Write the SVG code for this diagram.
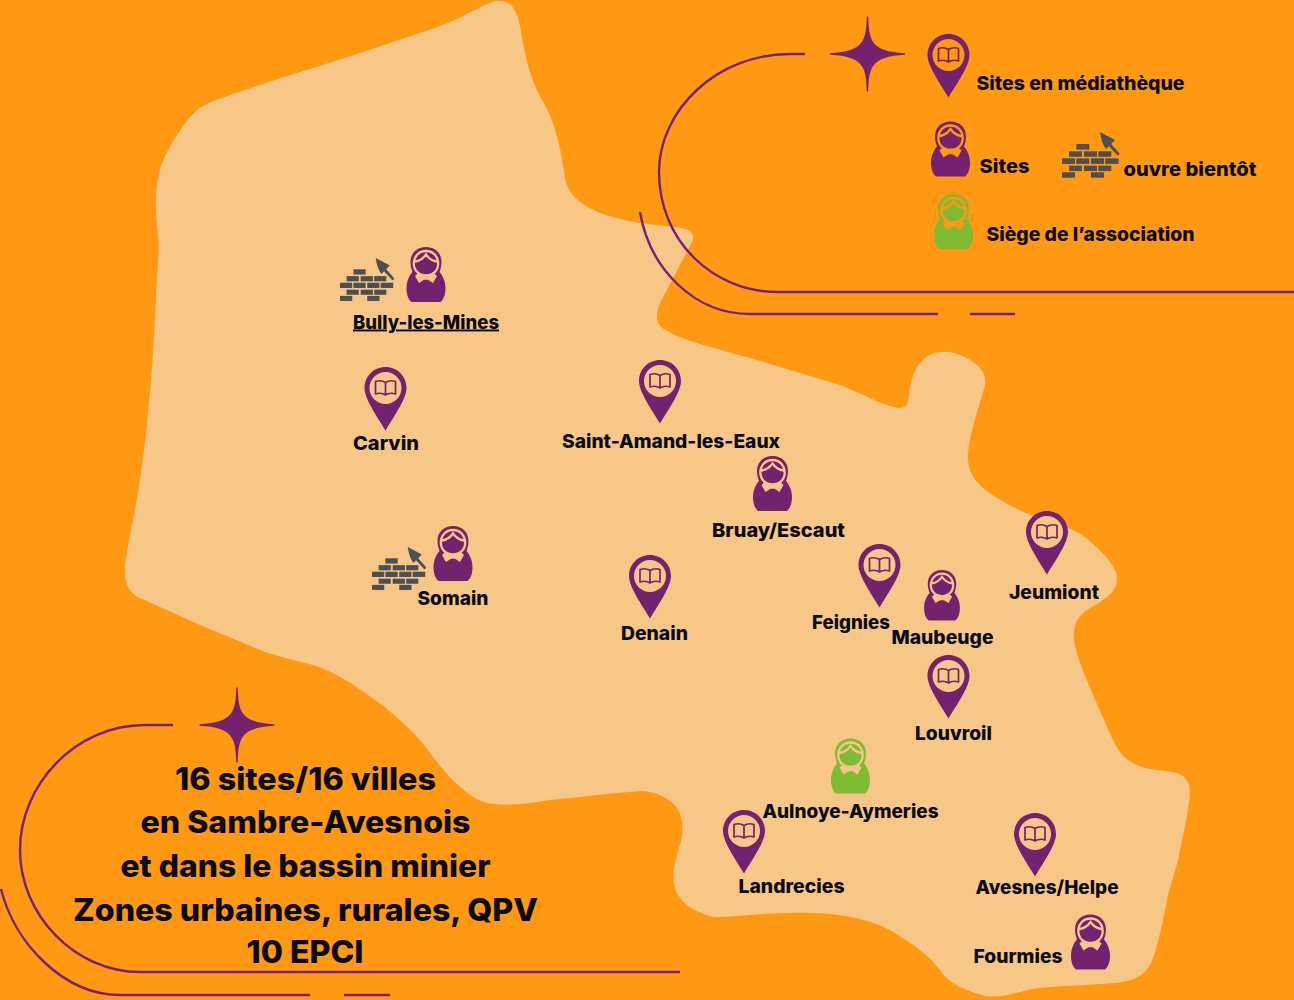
<svg xmlns="http://www.w3.org/2000/svg" width="1294" height="1000" viewBox="0 0 1294 1000">
<style>
text{font-family:"Inter","Liberation Sans",sans-serif;font-weight:800;fill:#0a0a0a}
.l{font-size:19px}
.b{font-size:31px;text-anchor:middle}
.c{fill:none;stroke:#74217a;stroke-width:2.4}
.onb{color:#ff9914}
.onm{color:#f6c787}
.p{fill:#742170}
.g{fill:#80bc33}
</style>
<defs>
<g id="pin">
<path fill="#742170" d="M0 0C12 0 21 9.500 21 21C21 32 8 50 0 63.500C-8 50 -21 32 -21 21C-21 9.500 -12 0 0 0Z"/>
<circle cy="21" r="16" fill="currentColor"/>
<path fill="none" stroke="#742170" stroke-width="1.700" stroke-linejoin="round" d="M0 15.500C-3 13.500 -7 13.500 -10 14.500V27C-7 26 -3 26 0 28C3 26 7 26 10 27V14.500C7 13.500 3 13.500 0 15.500ZM0 15.500V28"/>
</g>
<g id="doll">
<path d="M0 0C9.500 0 15.500 6.500 15.500 15C15.500 19 14.500 22 13.500 25C17 29 19.500 35 19.500 41C19.500 47 18 52 14.500 55H-14.500C-18 52 -19.500 47 -19.500 41C-19.500 35 -17 29 -13.500 25C-14.500 22 -15.500 19 -15.500 15C-15.500 6.500 -9.500 0 0 0Z"/>
<path fill="none" stroke="currentColor" stroke-width="2.300" d="M0 4C7.500 4 12.200 10 12.200 16.500C12.200 23.500 7 28.500 0 28.500C-7 28.500 -12.200 23.500 -12.200 16.500C-12.200 10 -7.500 4 0 4ZM-11 14.500C-6.500 14 -2.500 11 0 7.500C2.500 11 6.500 14 11 14.500"/>
<path fill="currentColor" d="M-8.500 26.500L0 29.500L8.500 26.500L11 29L7 36L2 32.800H-2L-7 36L-11 29Z"/>
</g>
<g id="bricks" fill="#4d4f53">
<rect x="14.300" y="12" width="13" height="5.600"/>
<rect x="7" y="19.300" width="13" height="5.500"/><rect x="22" y="19.300" width="13" height="5.500"/><rect x="36.300" y="19.300" width="13" height="5.500"/>
<rect x="0" y="26.300" width="13" height="5.600"/><rect x="14.300" y="26.300" width="13" height="5.600"/><rect x="29" y="26.300" width="13" height="5.600"/><rect x="43.300" y="26.300" width="13.300" height="5.600"/>
<rect x="7" y="33.700" width="13" height="5.400"/><rect x="22" y="33.700" width="13" height="5.400"/><rect x="36.300" y="33.700" width="13" height="5.400"/>
<rect x="0" y="40.300" width="13" height="5.400"/><rect x="29" y="40.300" width="13" height="5.400"/>
<path d="M38 0L53 8L44 17Q39.500 11 38 0Z"/>
<path d="M48 13L56 22" stroke="#4d4f53" stroke-width="3" stroke-linecap="round"/>
</g>
<path id="star" class="p" d="M-.7 -37.500H.7C1.500 -14 3 -2.500 37.500 -.8V.8C3 2.500 1.500 14 .7 37.500H-.7C-1.500 14 -3 2.500 -37.500 .8V-.8C-3 -2.500 -1.500 -14 -.7 -37.500Z"/>
</defs>
<rect id="background" width="1294" height="1000" fill="#ff9914"/>
<path id="territory" fill="#f6c787" d="M310 69C345 58 400 40 440 26C465 17 485 2 498 1C512 0 518 12 521 32C526 62 532 84 545 105C556 125 562 155 565 178C570 205 600 216 640 223C665 227 680 226 688 230C694 233 695 238 690 246L660 303C655 316 656 324 664 329C680 340 715 348 757 360L840 385C860 392 880 405 898 408C906 408 908 405 909 396C910 380 915 366 925 358C935 350 950 350 965 357C978 364 987 372 985 385C982 398 970 430 968 455C967 480 985 492 1015 508C1035 518 1052 522 1068 528C1085 534 1108 555 1116 572C1120 586 1112 594 1103 600C1095 606 1087 609 1081 615C1075 622 1073 630 1074 640C1076 660 1100 710 1113 740C1122 760 1135 766 1150 769C1168 772 1185 770 1189 785C1192 800 1184 830 1180 850C1175 875 1170 885 1167 900C1161 930 1158 945 1152 961C1145 977 1132 981 1115 983C1090 985 1070 985 1040 988C1020 990 1005 999 985 996C965 990 950 985 940 970C925 950 905 940 890 930C860 915 825 912 790 913C760 913 735 917 713 917C695 912 683 905 677 893C670 880 675 860 680 845C684 830 683 818 677 808C670 798 655 791 640 791C610 793 575 798 550 800C520 805 490 808 475 798C458 787 447 775 433 757C420 738 400 718 375 700C355 685 335 672 313 665C295 660 275 656 260 650L200 625L140 598C128 592 124 583 125 567C126 555 130 535 135 510C148 440 153 360 156 300C157 270 160 250 158 233C155 210 155 195 158 178C161 160 172 140 190 117C200 106 208 103 222 98C250 88 280 78 310 69Z"/>
<g id="connectors">
<path class="c" d="M805 54H790C717 54 659 110 659 172C659 240 712 292 778 292H1294"/>
<path class="c" d="M640 212C650 270 695 314 750 314H938M970 314H1015"/>
<path class="c" d="M173 725H145C75 725 20 785 20 850C20 915 75 972 140 972H680"/>
<path class="c" d="M1 889C15 945 65 995 120 995H310M344 995H390"/>
</g>
<use id="star-top" href="#star" x="867.500" y="54"/>
<use id="star-bottom" href="#star" x="237" y="725"/>
<g id="legend-mediatheque"><use class="onb" href="#pin" x="948.500" y="34"/><text class="l" x="976.500" y="90" textLength="208" lengthAdjust="spacingAndGlyphs">Sites en médiathèque</text></g>
<g id="legend-sites"><use class="p onb" href="#doll" x="950.500" y="121.500"/><text class="l" x="979.500" y="173" textLength="50" lengthAdjust="spacingAndGlyphs">Sites</text></g>
<g id="legend-bientot"><use href="#bricks" x="1062" y="132"/><text class="l" x="1123.500" y="175.500" textLength="133" lengthAdjust="spacingAndGlyphs">ouvre bientôt</text></g>
<g id="legend-siege"><use class="g onb" href="#doll" x="953.500" y="194"/><text class="l" x="986.500" y="240.500" textLength="208" lengthAdjust="spacingAndGlyphs">Siège de l’association</text></g>
<g id="bully"><use href="#bricks" transform="translate(340 258) scale(.94)"/><use class="p onm" href="#doll" x="426" y="247"/><text class="l" x="353" y="328.500" textLength="146" lengthAdjust="spacingAndGlyphs" text-decoration="underline">Bully-les-Mines</text></g>
<g id="carvin"><use class="onm" href="#pin" x="385.500" y="367"/><text class="l" x="353" y="449.500" textLength="66" lengthAdjust="spacingAndGlyphs">Carvin</text></g>
<g id="saint-amand"><use class="onm" href="#pin" x="660" y="360"/><text class="l" x="562" y="447.500" textLength="218" lengthAdjust="spacingAndGlyphs">Saint-Amand-les-Eaux</text></g>
<g id="bruay"><use class="p onm" href="#doll" x="772.500" y="456"/><text class="l" x="712" y="537" textLength="133" lengthAdjust="spacingAndGlyphs">Bruay/Escaut</text></g>
<g id="somain"><use href="#bricks" transform="translate(372 547) scale(.94)"/><use class="p onm" href="#doll" x="453" y="526"/><text class="l" x="417.500" y="605" textLength="71" lengthAdjust="spacingAndGlyphs">Somain</text></g>
<g id="denain"><use class="onm" href="#pin" x="650" y="555"/><text class="l" x="621" y="640" textLength="67" lengthAdjust="spacingAndGlyphs">Denain</text></g>
<g id="feignies"><use class="onm" href="#pin" x="879.500" y="544"/><text class="l" x="812" y="629" textLength="78" lengthAdjust="spacingAndGlyphs">Feignies</text></g>
<g id="maubeuge"><use class="p onm" href="#doll" transform="translate(942 570) scale(.92)"/><text class="l" x="891.500" y="644" textLength="102" lengthAdjust="spacingAndGlyphs">Maubeuge</text></g>
<g id="jeumiont"><use class="onm" href="#pin" x="1047" y="511"/><text class="l" x="1009" y="598.500" textLength="90" lengthAdjust="spacingAndGlyphs">Jeumiont</text></g>
<g id="louvroil"><use class="onm" href="#pin" x="948.500" y="655"/><text class="l" x="915" y="740" textLength="77" lengthAdjust="spacingAndGlyphs">Louvroil</text></g>
<g id="aulnoye"><use class="g onm" href="#doll" x="850.500" y="738.500"/><text class="l" x="762.500" y="818" textLength="176" lengthAdjust="spacingAndGlyphs">Aulnoye-Aymeries</text></g>
<g id="landrecies"><use class="onm" href="#pin" x="744" y="810"/><text class="l" x="738.500" y="893" textLength="106" lengthAdjust="spacingAndGlyphs">Landrecies</text></g>
<g id="avesnes"><use class="onm" href="#pin" x="1035" y="813"/><text class="l" x="975.500" y="894" textLength="143" lengthAdjust="spacingAndGlyphs">Avesnes/Helpe</text></g>
<g id="fourmies"><use class="p onm" href="#doll" x="1090.500" y="914.500"/><text class="l" x="973.500" y="963" textLength="89" lengthAdjust="spacingAndGlyphs">Fourmies</text></g>
<g id="summary">
<text class="b" x="305.500" y="790" textLength="261" lengthAdjust="spacingAndGlyphs">16 sites/16 villes</text>
<text class="b" x="305.500" y="833" textLength="330" lengthAdjust="spacingAndGlyphs">en Sambre-Avesnois</text>
<text class="b" x="305.500" y="877" textLength="370" lengthAdjust="spacingAndGlyphs">et dans le bassin minier</text>
<text class="b" x="305.500" y="921" textLength="465" lengthAdjust="spacingAndGlyphs">Zones urbaines, rurales, QPV</text>
<text class="b" x="305" y="963" textLength="117" lengthAdjust="spacingAndGlyphs">10 EPCI</text>
</g>
</svg>
